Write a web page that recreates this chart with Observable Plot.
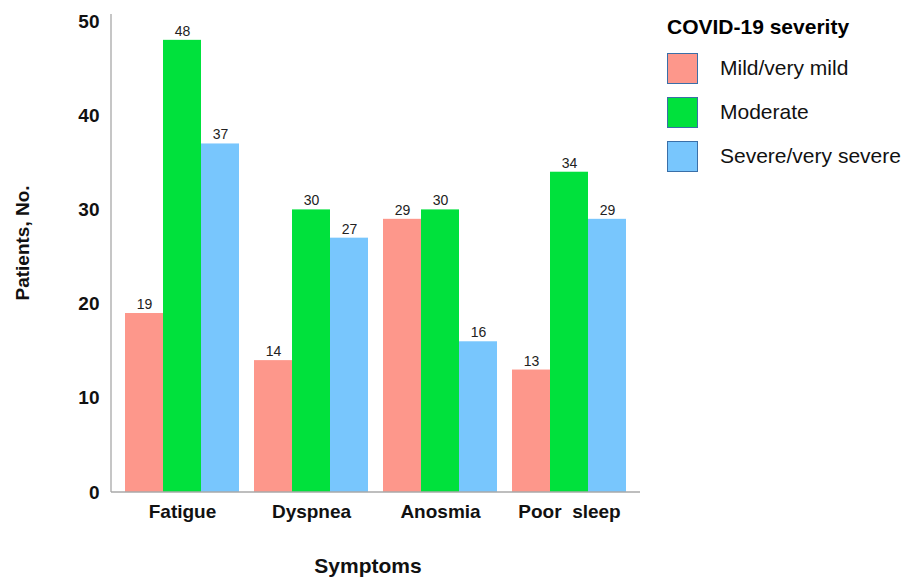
<!DOCTYPE html>
<html>
<head>
<meta charset="utf-8">
<script src="https://cdn.jsdelivr.net/npm/d3@7"></script>
<script src="https://cdn.jsdelivr.net/npm/@observablehq/plot@0.6"></script>
<style>
  html, body { margin: 0; padding: 0; background: #fff; }
  #wrap { position: relative; width: 911px; height: 577px; font-family: "Liberation Sans", Arial, sans-serif; }
  #legend { position: absolute; left: 667px; top: 15px; }
  #legend .title { font-weight: bold; font-size: 21px; color: #000; margin-bottom: 7px; white-space: nowrap; }
  #legend .row { display: flex; align-items: center; height: 44px; }
  #legend .sw { width: 31px; height: 31px; box-sizing: border-box; border: 1px solid #3a6fa8; margin-right: 22px; }
  #legend .lab { font-size: 21px; color: #111; white-space: nowrap; }
</style>
</head>
<body>
<div id="wrap"><div id="chart"></div><div id="legend"></div></div>
<script>
const symptoms = ["Fatigue", "Dyspnea", "Anosmia", "Poor  sleep"];
const severities = ["Mild/very mild", "Moderate", "Severe/very severe"];
const mild = [19, 14, 29, 13];
const moderate = [48, 30, 30, 34];
const severe = [37, 27, 16, 29];
const colors = ["#fd978b", "#00e13c", "#78c6fd"];
const yTicks = [0, 10, 20, 30, 40, 50];

const series = [mild, moderate, severe];
const data = [];
symptoms.forEach((s, i) => severities.forEach((sev, j) => data.push({symptom: s, severity: sev, value: series[j][i]})));

const chart = Plot.plot({
  width: 911,
  height: 577,
  marginLeft: 111,
  marginRight: 271,
  marginTop: 21,
  marginBottom: 85,
  style: {fontFamily: "'Liberation Sans', Arial, sans-serif", background: "transparent"},
  fx: {domain: symptoms, paddingInner: 0.097, paddingOuter: 0.09, label: null, axis: null},
  x: {domain: severities, padding: 0, axis: null},
  y: {domain: [0, 50], ticks: yTicks, label: null, axis: null},
  color: {domain: severities, range: colors},
  marks: [
    Plot.barY(data, {fx: "symptom", x: "severity", y: "value", fill: "severity"}),
    Plot.text(data, {fx: "symptom", x: "severity", y: "value", text: "value", dy: -9, fontSize: 14, fill: "#222"}),
    Plot.axisY({ticks: yTicks, tickSize: 0, tickPadding: 25, fontSize: 19, fontWeight: "bold", fill: "#111", label: null}),
    Plot.axisFx({anchor: "bottom", tickSize: 0, tickPadding: 12, fontSize: 19, fontWeight: "bold", fill: "#111", label: null})
  ]
});
document.getElementById("chart").appendChild(chart);

const svg = d3.select(chart);
const ys = chart.scale("y"), fxs = chart.scale("fx");
const y0 = ys.apply(0), yTop = ys.range[1] - 7;
const xL = Math.min(...fxs.range) , xR = Math.max(...fxs.range);
svg.append("line").attr("x1", xL).attr("x2", xR).attr("y1", y0).attr("y2", y0)
  .attr("stroke", "#a8a8a8").attr("stroke-width", 1.3);
svg.append("line").attr("x1", xL).attr("x2", xL).attr("y1", y0).attr("y2", yTop)
  .attr("stroke", "#a8a8a8").attr("stroke-width", 1.3);

svg.append("text").text("Patients, No.")
  .attr("transform", "translate(29,243) rotate(-90)")
  .attr("text-anchor", "middle").attr("font-size", 19).attr("font-weight", "bold").attr("fill", "#111");
svg.append("text").text("Symptoms")
  .attr("x", 368).attr("y", 573)
  .attr("text-anchor", "middle").attr("font-size", 21).attr("font-weight", "bold").attr("fill", "#111");

const legend = d3.select("#legend");
legend.append("div").attr("class", "title").text("COVID-19 severity");
severities.forEach((s, i) => {
  const row = legend.append("div").attr("class", "row");
  row.append("div").attr("class", "sw").style("background", colors[i]);
  row.append("div").attr("class", "lab").text(s);
});
</script>
</body>
</html>
